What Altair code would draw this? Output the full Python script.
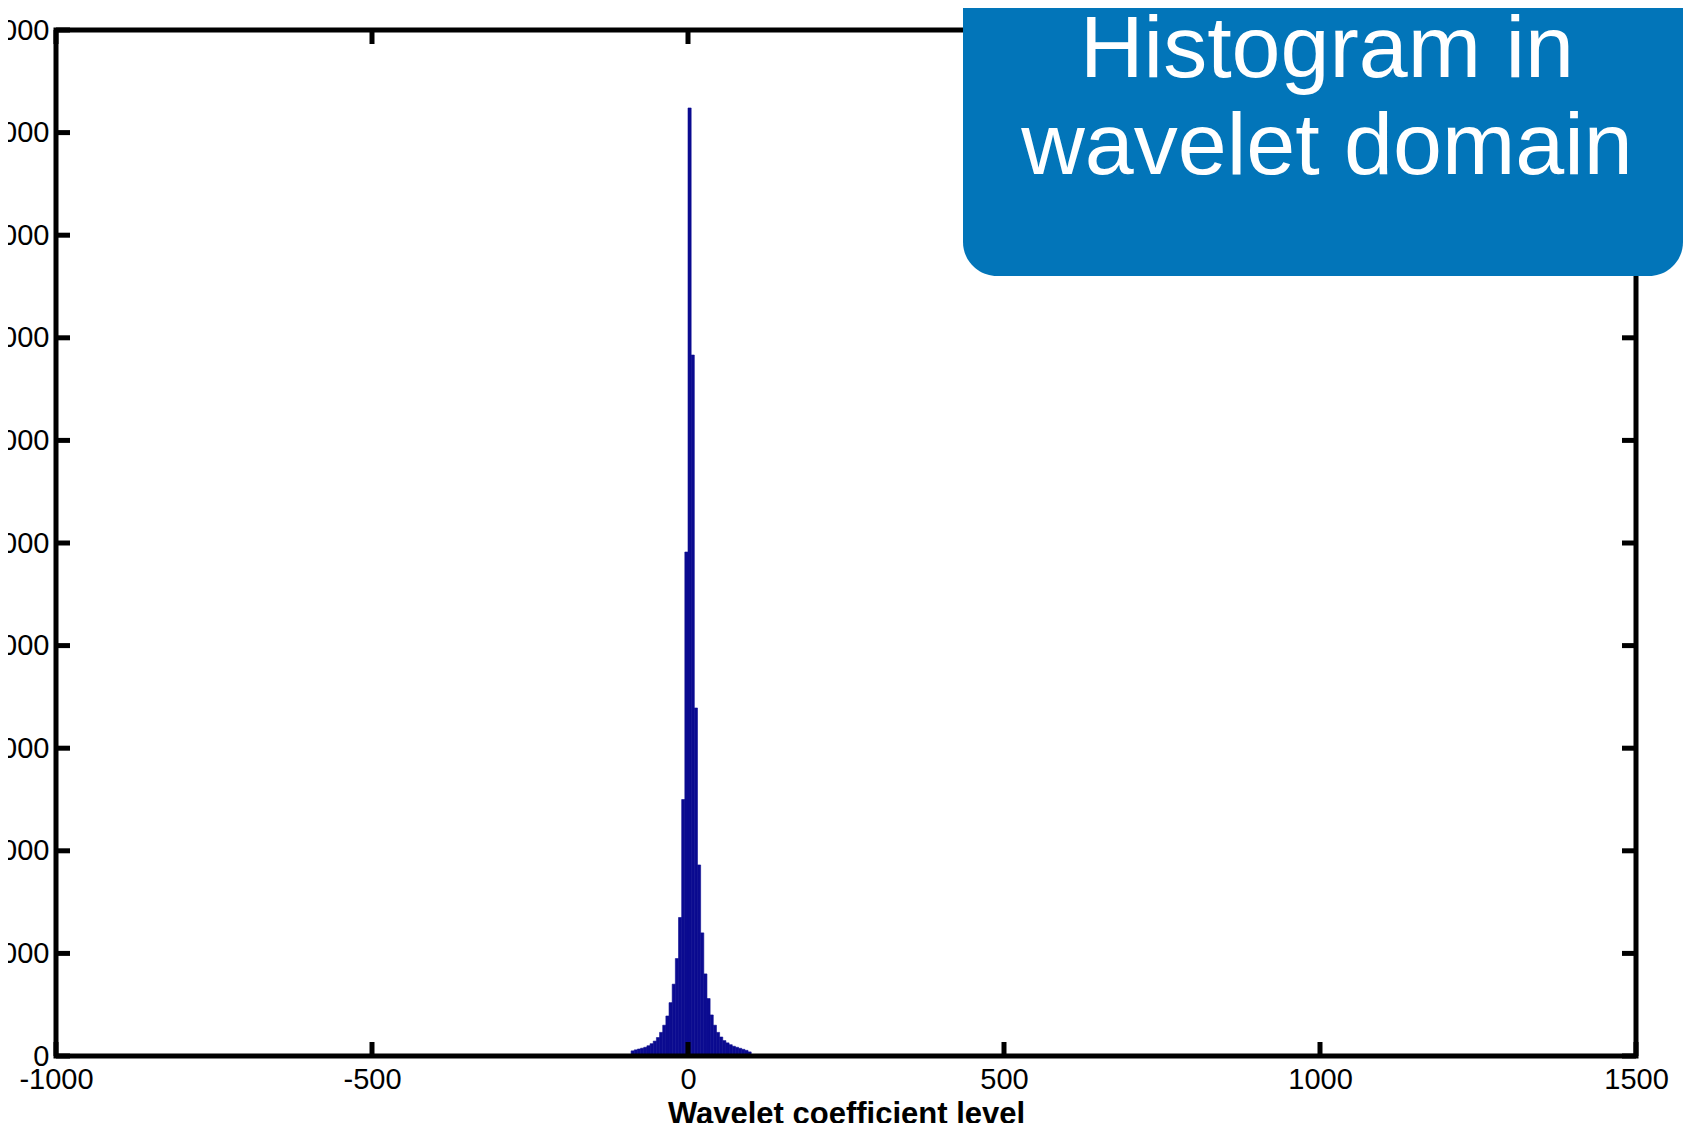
import altair as alt
import pandas as pd

# ---- data ----
bin_left = [-90, -85, -80, -75, -70, -65, -60, -55, -50, -45, -40, -35, -30, -25,
            -20, -15, -10, -5, 0, 5, 10, 15, 20, 25, 30, 35, 40, 45, 50, 55, 60,
            65, 70, 75, 80, 85, 90, 95]
counts = [50, 60, 68, 76, 85, 100, 120, 145, 180, 230, 300, 390, 520, 700,
          950, 1350, 2500, 4912, 9240, 6832, 3392, 1862, 1200, 800, 560, 400, 300,
          230, 185, 150, 128, 110, 95, 85, 75, 65, 55, 40]
bin_width = 5
x_ticks = [-1000, -500, 0, 500, 1000, 1500]
y_ticks = [0, 1000, 2000, 3000, 4000, 5000, 6000, 7000, 8000, 9000, 10000]
x_title = "Wavelet coefficient level"
callout_lines = ["Histogram in", "wavelet domain"]

df = pd.DataFrame({"left": bin_left,
                   "right": [b + bin_width for b in bin_left],
                   "count": counts})
xdf = pd.DataFrame({"left": x_ticks})
ydf = pd.DataFrame({"count": y_ticks})
one = pd.DataFrame({"k": [0]})

W, H = 1580, 1026
BAR = "#0B0B90"
BOX = "#0275B9"
FONT = "Liberation Sans"

xs = alt.Scale(domain=[-1000, 1500], nice=False, zero=False)
ys = alt.Scale(domain=[0, 10000], nice=False)

x_axis = alt.Axis(values=x_ticks, title=x_title, labelPadding=9,
                  labelExpr="toString(datum.value)",
                  titlePadding=5, titleFontSize=31, titleFontWeight="bold",
                  titleFont=FONT, titleColor="black",
                  labelOverlap=False, labelFlush=False)
y_axis = alt.Axis(values=y_ticks, title=None, labelExpr="toString(datum.value)",
                  labelPadding=7)

bars = alt.Chart(df).mark_rect(color=BAR, stroke=BAR, strokeWidth=0.6).encode(
    x=alt.X("left:Q", scale=xs, axis=x_axis),
    x2="right:Q",
    y=alt.Y("count:Q", scale=ys, axis=y_axis),
    y2=alt.datum(0),
)

frame = alt.Chart(one).mark_rect(fill=None, stroke="black", strokeWidth=5).encode(
    x=alt.value(0), x2=alt.value(W), y=alt.value(0), y2=alt.value(H))

tick_len = 14
xt_top = alt.Chart(xdf).mark_rule(color="black", strokeWidth=5).encode(
    x=alt.X("left:Q", scale=xs, axis=x_axis), y=alt.value(0), y2=alt.value(tick_len))
xt_bot = alt.Chart(xdf).mark_rule(color="black", strokeWidth=5).encode(
    x=alt.X("left:Q", scale=xs, axis=x_axis), y=alt.value(H), y2=alt.value(H - tick_len))
yt_left = alt.Chart(ydf).mark_rule(color="black", strokeWidth=5).encode(
    y=alt.Y("count:Q", scale=ys, axis=y_axis), x=alt.value(0), x2=alt.value(tick_len))
yt_right = alt.Chart(ydf).mark_rule(color="black", strokeWidth=5).encode(
    y=alt.Y("count:Q", scale=ys, axis=y_axis), x=alt.value(W), x2=alt.value(W - tick_len))

box = alt.Chart(one).mark_rect(color=BOX, cornerRadius=34).encode(
    x=alt.value(907), x2=alt.value(1627), y=alt.value(-80), y2=alt.value(246))

t1 = alt.Chart(one).mark_text(text=callout_lines[0], font=FONT, fontSize=88,
                              color="white", align="center", baseline="alphabetic").encode(
    x=alt.value(1271), y=alt.value(47))
t2 = alt.Chart(one).mark_text(text=callout_lines[1], font=FONT, fontSize=88,
                              color="white", align="center", baseline="alphabetic").encode(
    x=alt.value(1271), y=alt.value(144))

chart = alt.layer(bars, frame, xt_top, xt_bot, yt_left, yt_right, box, t1, t2).properties(
    width=W, height=H,
    autosize=alt.AutoSizeParams(type="none"),
    padding={"left": 48, "top": 22, "right": 47, "bottom": 67},
).configure_view(stroke=None).configure_axis(
    labelFont=FONT, labelFontSize=29, labelColor="black",
    ticks=False, domain=False, grid=False,
)

chart.save("out.html", embed_options={"renderer": "svg", "actions": False})
